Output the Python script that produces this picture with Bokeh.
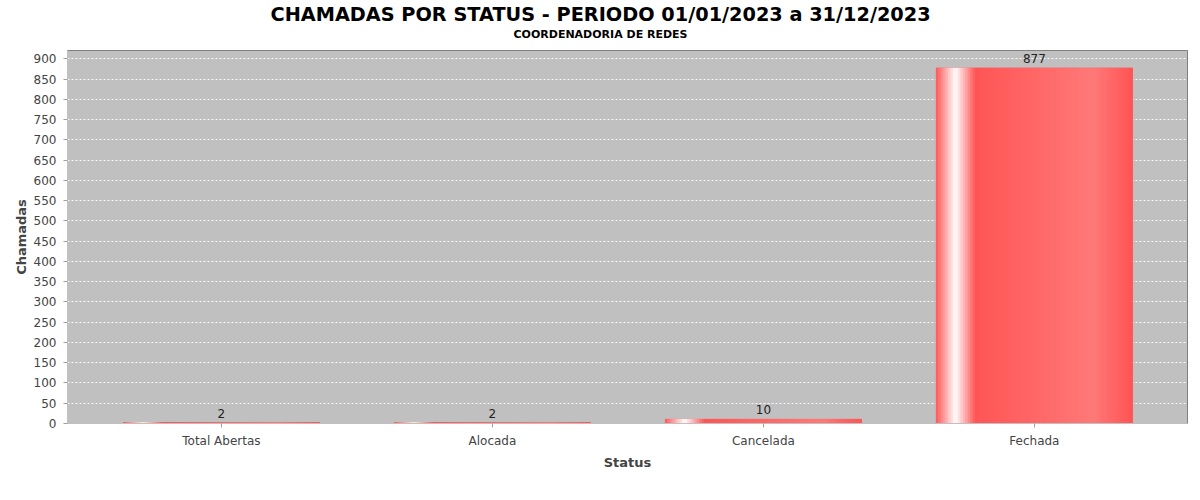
from bokeh.plotting import figure
from bokeh.models import (Range1d, FixedTicker, Title, Legend, LegendItem, ColumnDataSource)
from bokeh.core.properties import value
from bokeh.embed import file_html
from bokeh.resources import INLINE

# ---- data ----
categories = ["Total Abertas", "Alocada", "Cancelada", "Fechada"]
chamadas = [2, 2, 10, 877]
series_name = "Chamadas"
title_text = "CHAMADAS POR STATUS - PERIODO 01/01/2023 a 31/12/2023"
subtitle_text = "COORDENADORIA DE REDES"
y_ticks = list(range(0, 901, 50))

FONT = "DejaVu Sans"
BASE = (255, 85, 85)
BRIGHT = (255, 121, 121)
WHITE = (255, 255, 255)

def mix(a, b, t):
    return "#%02x%02x%02x" % tuple(int(round(a[i] + (b[i] - a[i]) * t)) for i in range(3))

def grad_color(f):
    # JFreeChart-like GradientBarPainter (0.10, 0.20, 0.80)
    if f < 0.10:
        return mix(BASE, WHITE, f / 0.10)
    if f < 0.20:
        return mix(WHITE, BASE, (f - 0.10) / 0.10)
    if f < 0.80:
        return mix(BASE, BRIGHT, (f - 0.20) / 0.60)
    return mix(BRIGHT, BASE, (f - 0.80) / 0.20)

n = len(categories)
xs = list(range(n))
bar_w = 0.723
ymax = max(chamadas) * 1.05

p = figure(width=1200, height=500, output_backend="svg", toolbar_location=None,
           x_range=Range1d(-0.568, n - 1 + 0.565), y_range=Range1d(0, ymax),
           frame_width=1120, frame_height=373,
           min_border_left=67, min_border_right=13, min_border_top=0, min_border_bottom=75,
           title=None)

p.background_fill_color = "#c0c0c0"
p.border_fill_color = "white"
p.outline_line_color = "#808080"
p.outline_line_width = 1

# base bars
base_src = ColumnDataSource(dict(x=xs, top=chamadas))
base_r = p.vbar(x="x", top="top", width=bar_w, bottom=0, source=base_src,
                fill_color="#ff5555", line_color="#ff5555", line_width=1)

# gradient strips
NS = 80
sx, stop, scol = [], [], []
for i, v in zip(xs, chamadas):
    for k in range(NS):
        f = (k + 0.5) / NS
        sx.append(i - bar_w / 2 + f * bar_w)
        stop.append(v)
        scol.append(grad_color(f))
p.vbar(x=sx, top=stop, width=bar_w / NS, bottom=0, fill_color=scol,
       line_color=scol, line_width=1)

# value labels
p.text(x=xs, y=chamadas, text=[str(v) for v in chamadas], text_align="center",
       text_baseline="bottom", y_offset=-5, text_font=value(FONT),
       text_font_size="12px", text_color="#222222")

# grid
p.xgrid.visible = False
p.ygrid.ticker = FixedTicker(ticks=y_ticks)
p.ygrid.grid_line_color = "white"
p.ygrid.grid_line_dash = "2 2"
p.ygrid.grid_line_width = 1
p.ygrid.grid_line_alpha = 0.9

# axes
yax = p.yaxis[0]
yax.ticker = FixedTicker(ticks=y_ticks)
yax.axis_label = "Chamadas"
xax = p.xaxis[0]
xax.ticker = FixedTicker(ticks=xs)
xax.major_label_overrides = {i: c for i, c in zip(xs, categories)}
xax.axis_label = "Status"
for ax in (xax, yax):
    ax.axis_line_color = "#c0c0c0"
    ax.major_tick_line_color = "#a0a0a0"
    ax.major_tick_in = 0
    ax.major_tick_out = 4
    ax.minor_tick_line_color = None
    ax.major_label_text_font = FONT
    ax.major_label_text_font_size = "12px"
    ax.major_label_text_color = "#444444"
    ax.axis_label_text_font = FONT
    ax.axis_label_text_font_size = "13px"
    ax.axis_label_text_font_style = "bold"
    ax.axis_label_text_color = "#444444"
yax.major_label_standoff = 7
yax.axis_label_standoff = 2
xax.major_label_standoff = 6
xax.axis_label_standoff = 4

# titles: later added goes further out (spacer, subtitle, main title)
spacer = Title(text=" ", align="left", text_font=FONT, text_font_size="1px",
               text_color="white", standoff=7)
p.add_layout(spacer, "above")
sub = Title(text=subtitle_text, align="left", text_font=FONT, text_font_size="11px",
            text_font_style="bold", text_color="black", standoff=0, offset=446)
p.add_layout(sub, "above")
main = Title(text=title_text, align="left", text_font=FONT, text_font_size="19.3px",
             text_font_style="bold", text_color="black", standoff=0, offset=203)
p.add_layout(main, "above")

# legend
legend = Legend(items=[LegendItem(label=series_name, renderers=[base_r])],
                location="center", orientation="horizontal",
                border_line_color="black", border_line_width=1,
                label_text_font=FONT, label_text_font_size="12px", label_text_color="#333333",
                glyph_width=9, glyph_height=9, padding=4, spacing=0, margin=0,
                label_standoff=4, label_height=12, background_fill_color="white")
p.add_layout(legend, "below")

open("out.html", "w").write(file_html(p, INLINE))
